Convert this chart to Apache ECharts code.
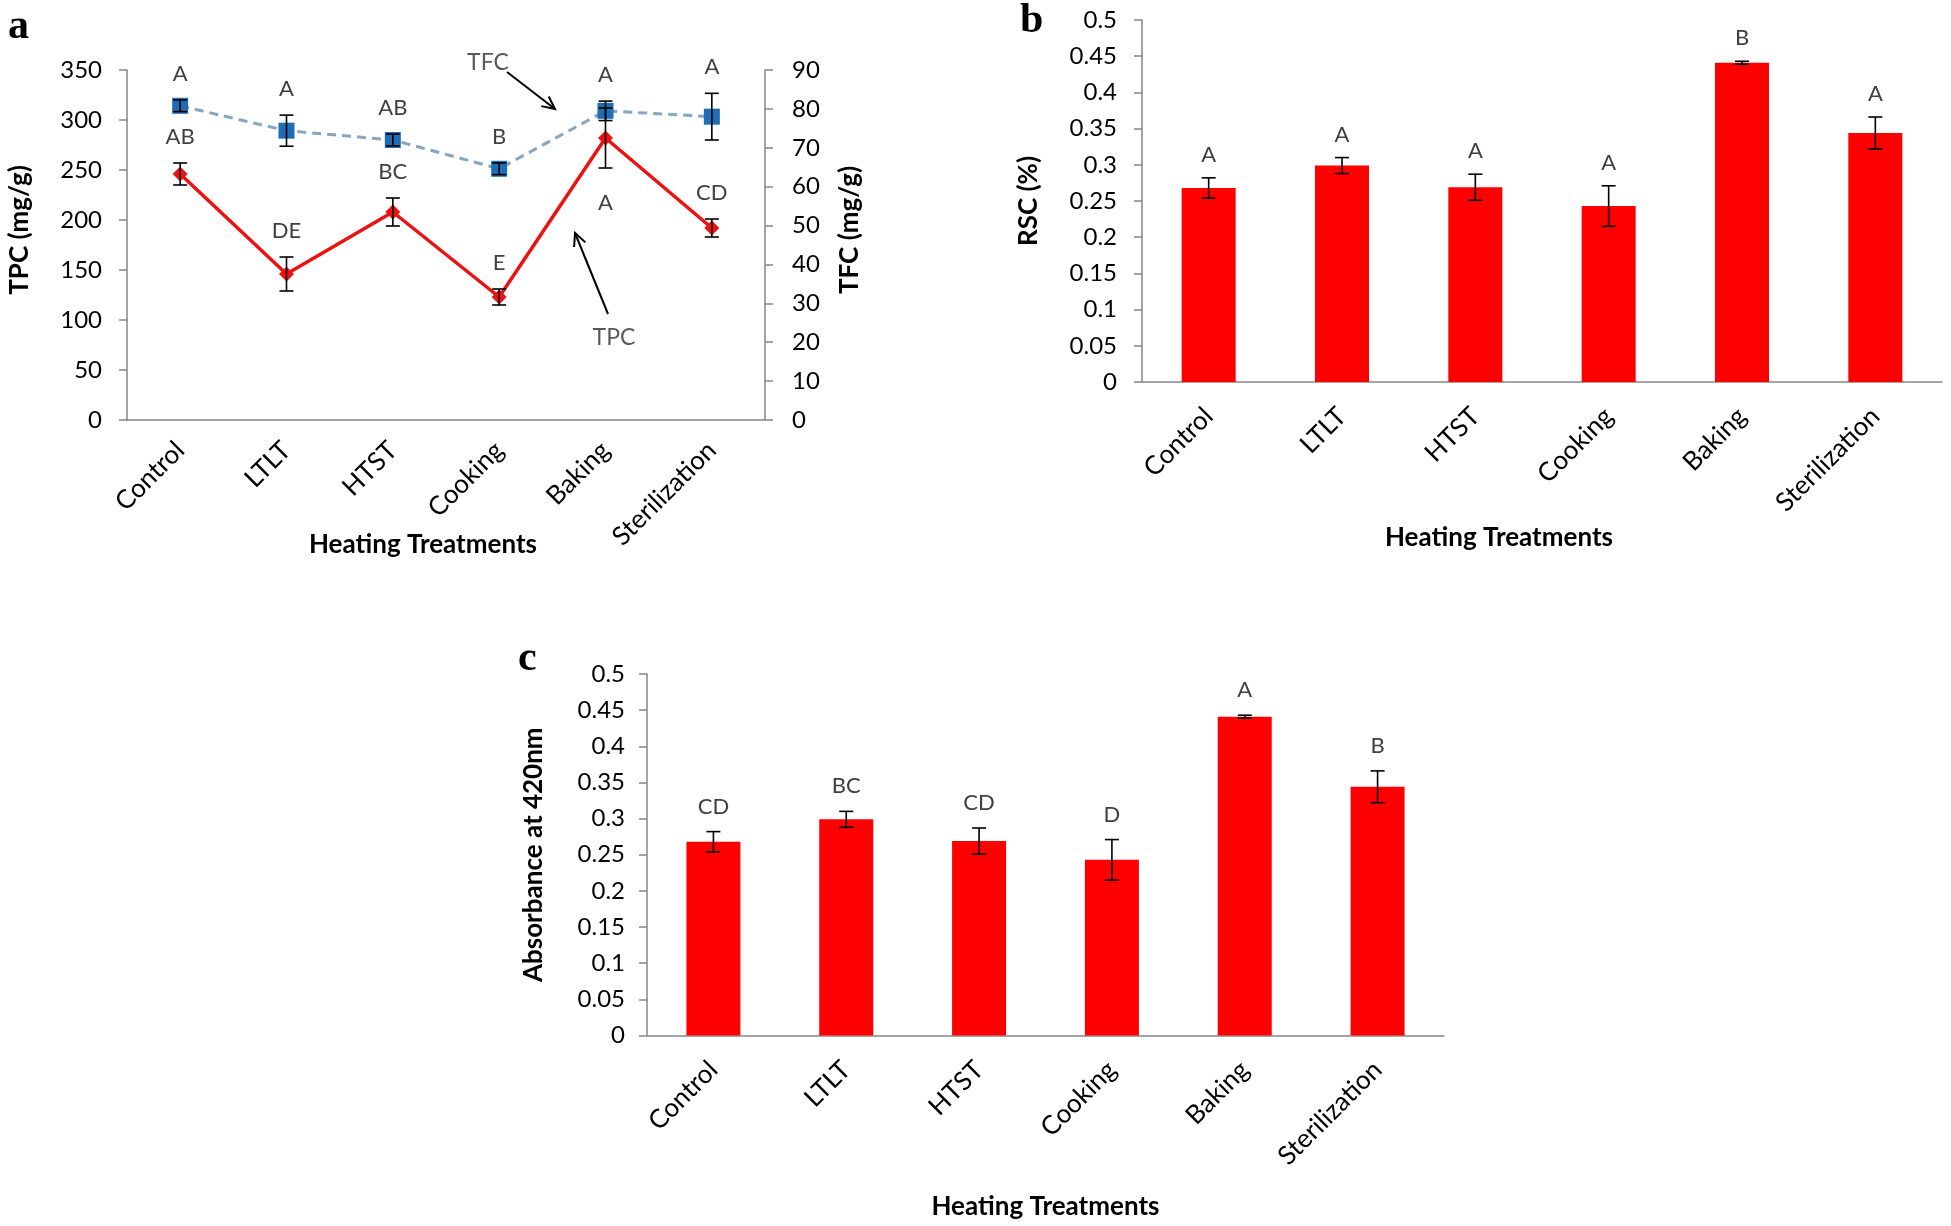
<!DOCTYPE html>
<html><head><meta charset="utf-8">
<script src="https://cdn.jsdelivr.net/npm/echarts@6/dist/echarts.min.js"></script>
<style>html,body{margin:0;padding:0;background:#fff}#chart{width:1951px;height:1226px}</style>
</head><body><div id="chart"></div>
<script>
// ---------- data ----------
const categories = ['Control', 'LTLT', 'HTST', 'Cooking', 'Baking', 'Sterilization'];

const tpcValues  = [246, 146, 208, 123, 282, 192];
const tpcErrors  = [11, 17, 14, 8, 30, 9];
const tpcLetters = ['AB', 'DE', 'BC', 'E', 'A', 'CD'];

const tfcValues  = [80.8, 74.4, 72.0, 64.6, 79.5, 78.0];
const tfcErrors  = [1.5, 4, 1.5, 1.5, 2.5, 6];
const tfcLetters = ['A', 'A', 'AB', 'B', 'A', 'A'];

const rscValues  = [0.268, 0.299, 0.269, 0.243, 0.441, 0.344];
const rscErrors  = [0.014, 0.011, 0.018, 0.028, 0.002, 0.022];
const rscLetters = ['A', 'A', 'A', 'A', 'B', 'A'];

const absValues  = [0.268, 0.299, 0.269, 0.243, 0.441, 0.344];
const absErrors  = [0.014, 0.011, 0.018, 0.028, 0.002, 0.022];
const absLetters = ['CD', 'BC', 'CD', 'D', 'A', 'B'];

// ---------- style ----------
const FONT = 'Lato, "Open Sans", sans-serif';
const AXIS_COLOR = '#868686';
const tpcLetterSide = ['top', 'top', 'top', 'top', 'bottom', 'top'];
const allTop = ['top', 'top', 'top', 'top', 'top', 'top'];

function xAx(gridIndex, nameGap, shift, tickLen, labelMargin) {
  return {
    type: 'category', gridIndex, data: categories, boundaryGap: true,
    axisLine: { lineStyle: { color: AXIS_COLOR, width: 1.5 } },
    axisTick: { length: tickLen, lineStyle: { color: AXIS_COLOR, width: 1.5 } },
    axisLabel: { rotate: 45, margin: labelMargin, fontSize: 26, color: '#000', fontFamily: FONT, interval: 0 },
    splitLine: { show: false },
    name: 'Heating Treatments', nameLocation: 'middle', nameGap, nameMoveOverlap: false,
    nameTextStyle: { fontSize: 26, fontWeight: 'bold', color: '#000', fontFamily: FONT, padding: [0, 2 * shift, 0, 0] }
  };
}
function yAx(gridIndex, name, min, max, interval, nameGap, position, labelMargin, upShift) {
  return {
    type: 'value', gridIndex, min, max, interval, position,
    axisLine: { show: true, lineStyle: { color: AXIS_COLOR, width: 1.5 } },
    axisTick: { show: true, length: 8, lineStyle: { color: AXIS_COLOR, width: 1.5 } },
    axisLabel: { margin: labelMargin, fontSize: 24, color: '#000', fontFamily: FONT },
    splitLine: { show: false },
    name, nameLocation: 'middle', nameGap, nameMoveOverlap: false,
    nameTextStyle: { fontSize: 26, fontWeight: 'bold', color: '#000', fontFamily: FONT, padding: [0, 0, 0, 2 * upShift] }
  };
}
function errSeries(xAxisIndex, yAxisIndex, vals, errs, letters, sides, gap) {
  return {
    type: 'custom', xAxisIndex, yAxisIndex, z: 10, silent: true,
    data: vals.map((v, i) => [i, v, errs[i]]),
    renderItem(params, api) {
      const i = api.value(0), v = api.value(1), e = api.value(2);
      const top = api.coord([i, v + e]);
      const bot = api.coord([i, v - e]);
      const hw = 7;
      const st = { stroke: '#000', lineWidth: 1.6 };
      const side = sides[params.dataIndex];
      const ty = side === 'bottom' ? bot[1] + gap + 12 : top[1] - gap - 3;
      return {
        type: 'group',
        children: [
          { type: 'line', shape: { x1: top[0], y1: top[1], x2: bot[0], y2: bot[1] }, style: st },
          { type: 'line', shape: { x1: top[0] - hw, y1: top[1], x2: top[0] + hw, y2: top[1] }, style: st },
          { type: 'line', shape: { x1: bot[0] - hw, y1: bot[1], x2: bot[0] + hw, y2: bot[1] }, style: st },
          { type: 'text', style: { text: letters[params.dataIndex], x: top[0], y: ty, align: 'center', verticalAlign: 'middle',
              fontSize: 22, fontFamily: FONT, fill: '#404040' } }
        ]
      };
    }
  };
}
function arrow(x1, y1, x2, y2) {
  const a = Math.atan2(y2 - y1, x2 - x1), L = 14, w = 0.45;
  return [
    { type: 'line', shape: { x1, y1, x2, y2 }, style: { stroke: '#000', lineWidth: 2 } },
    { type: 'polyline', shape: { points: [
        [x2 - L * Math.cos(a - w), y2 - L * Math.sin(a - w)], [x2, y2],
        [x2 - L * Math.cos(a + w), y2 - L * Math.sin(a + w)]] },
      style: { stroke: '#000', lineWidth: 2, fill: null } }
  ];
}

const chart = echarts.init(document.getElementById('chart'));
chart.setOption({
  backgroundColor: '#fff',
  animation: false,
  grid: [
    { left: 127, top: 70, width: 638, height: 350 },
    { left: 1142, top: 20, width: 800, height: 362 },
    { left: 647, top: 674, width: 797, height: 361.5 }
  ],
  xAxis: [
    xAx(0, 112, 23, 9, 26),
    xAx(1, 143, 43, 10, 30),
    xAx(2, 158, 0, 10, 30)
  ],
  yAxis: [
    yAx(0, 'TPC (mg/g)', 0, 350, 50, 94, 'left', 25, 15),
    yAx(0, 'TFC (mg/g)', 0, 90, 10, 72, 'right', 27, 15),
    yAx(1, 'RSC (%)', 0, 0.5, 0.05, 100, 'left', 25, 0),
    yAx(2, 'Absorbance at 420nm', 0, 0.5, 0.05, 100, 'left', 22, 0)
  ],
  series: [
    {
      type: 'line', name: 'TFC', xAxisIndex: 0, yAxisIndex: 1, data: tfcValues,
      symbol: 'rect', symbolSize: 16, itemStyle: { color: '#1f6db5' },
      lineStyle: { color: '#86a5c2', width: 3, type: [9, 6] }, z: 3
    },
    {
      type: 'line', name: 'TPC', xAxisIndex: 0, yAxisIndex: 0, data: tpcValues,
      symbol: 'diamond', symbolSize: 15, itemStyle: { color: '#ee1111' },
      lineStyle: { color: '#ee1111', width: 3.5 }, z: 4
    },
    errSeries(0, 1, tfcValues, tfcErrors, tfcLetters, allTop, 23),
    errSeries(0, 0, tpcValues, tpcErrors, tpcLetters, tpcLetterSide, 23),
    {
      type: 'bar', name: 'RSC', xAxisIndex: 1, yAxisIndex: 2, data: rscValues,
      barWidth: 54, itemStyle: { color: '#ff0000' }
    },
    errSeries(1, 2, rscValues, rscErrors, rscLetters, allTop, 20),
    {
      type: 'bar', name: 'Absorbance', xAxisIndex: 2, yAxisIndex: 3, data: absValues,
      barWidth: 54, itemStyle: { color: '#ff0000' }
    },
    errSeries(2, 3, absValues, absErrors, absLetters, allTop, 22)
  ],
  graphic: [
    { type: 'text', left: 8, top: 6, style: { text: 'a', fontSize: 42, fontWeight: 'bold', fontFamily: '"Liberation Serif", serif', fill: '#000' } },
    { type: 'text', left: 1020, top: 0, style: { text: 'b', fontSize: 42, fontWeight: 'bold', fontFamily: '"Liberation Serif", serif', fill: '#000' } },
    { type: 'text', left: 518, top: 638, style: { text: 'c', fontSize: 42, fontWeight: 'bold', fontFamily: '"Liberation Serif", serif', fill: '#000' } },
    { type: 'text', x: 488, y: 63, style: { text: 'TFC', fontSize: 23, fontFamily: FONT, fill: '#595959', align: 'center', verticalAlign: 'middle' } },
    { type: 'text', x: 614, y: 338, style: { text: 'TPC', fontSize: 23, fontFamily: FONT, fill: '#595959', align: 'center', verticalAlign: 'middle' } },
    ...arrow(507, 72, 555, 109),
    ...arrow(608, 314, 575, 233)
  ]
});
</script></body></html>
